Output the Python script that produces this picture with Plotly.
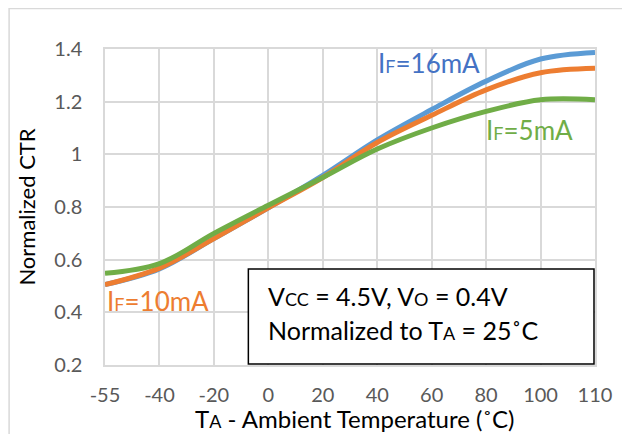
import plotly.graph_objects as go

temps = ["-55", "-40", "-20", "0", "20", "40", "60", "80", "100", "110"]
ctr_16mA = [0.505, 0.565, 0.680, 0.797, 0.920, 1.055, 1.170, 1.278, 1.362, 1.387]
ctr_10mA = [0.505, 0.568, 0.680, 0.797, 0.912, 1.045, 1.148, 1.245, 1.310, 1.327]
ctr_5mA = [0.548, 0.585, 0.700, 0.807, 0.912, 1.020, 1.100, 1.163, 1.207, 1.207]
y_ticks = [0.2, 0.4, 0.6, 0.8, 1.0, 1.2, 1.4]
y_ticktext = ["0.2", "0.4", "0.6", "0.8", "1", "1.2", "1.4"]

FONT = "Lato, 'Open Sans', sans-serif"
BLUE, ORANGE, GREEN = "#5B9BD5", "#ED7D31", "#70AD47"

fig = go.Figure()
for vals, col in [(ctr_16mA, BLUE), (ctr_10mA, ORANGE), (ctr_5mA, GREEN)]:
    fig.add_trace(go.Scatter(x=temps, y=vals, mode="lines",
                             line=dict(color=col, width=5, shape="spline", smoothing=1.0),
                             showlegend=False, hoverinfo="skip"))

# page body has an 8px default margin: work in window pixels, convert to figure
OFF = 8
L, R, T, B = 104.5, 595, 49, 365   # plot area in window pixels
W, H = R - L, B - T
def px(x):
    return (x - L) / W
def py(y):
    return (B - y) / H

def small(t, s):
    return f"<span style='font-size:{s}px'>{t}</span>"

fig.update_layout(
    width=630, height=434,
    margin=dict(l=L - OFF, r=630 - (R - OFF), t=T - OFF, b=434 - (B - OFF)),
    paper_bgcolor="white", plot_bgcolor="white",
    font=dict(family=FONT, color="#595959"),
    xaxis=dict(type="category", range=[0, len(temps) - 1], automargin=False,
               showgrid=True, gridcolor="#d9d9d9", gridwidth=1.5,
               showline=True, linecolor="#d9d9d9", linewidth=1.5, mirror=True,
               zeroline=False, ticks="outside", ticklen=0,
               ticklabelstandoff=11,
               tickfont=dict(size=20, color="#595959")),
    yaxis=dict(range=[0.2, 1.4], tickvals=y_ticks, ticktext=y_ticktext, automargin=False,
               showgrid=True, gridcolor="#d9d9d9", gridwidth=1.5,
               showline=True, linecolor="#d9d9d9", linewidth=1.5, mirror=True,
               zeroline=False, ticks="outside", ticklen=0,
               ticklabelstandoff=17,
               tickfont=dict(size=20, color="#595959"),
               title=dict(text="Normalized CTR", font=dict(size=22, color="#000000"),
                          standoff=13)),
)

# x-axis title placed as text under the tick labels
fig.add_annotation(xref="paper", yref="paper", x=px(354), y=py(418),
                   xanchor="center", yanchor="middle", showarrow=False,
                   text="T" + small("A", 18) + " - Ambient Temperature (˚C)",
                   font=dict(size=24, color="#000000", family=FONT))

# outer chart border (light gray, extends past the image)
fig.add_shape(type="rect", xref="paper", yref="paper",
              x0=px(8.5), x1=px(700), y0=py(500), y1=py(8.5),
              line=dict(color="#d9d9d9", width=1.5), fillcolor="rgba(0,0,0,0)", layer="below")

# condition box
fig.add_shape(type="rect", xref="paper", yref="paper",
              x0=px(248), x1=px(594), y0=py(364), y1=py(269),
              line=dict(color="#000000", width=1.5), fillcolor="white", layer="above")

fig.add_annotation(xref="paper", yref="paper", x=px(266), y=py(296),
                   xanchor="left", yanchor="middle", showarrow=False,
                   text="V" + small("CC", 18) + " = 4.5V, V" + small("O", 18) + " = 0.4V",
                   font=dict(size=25, color="#000000", family=FONT))
fig.add_annotation(xref="paper", yref="paper", x=px(266), y=py(330),
                   xanchor="left", yanchor="middle", showarrow=False,
                   text="Normalized to T" + small("A", 18) + " = 25˚C",
                   font=dict(size=25, color="#000000", family=FONT))

# series labels
for txt, x, y, col in [("=16mA", 376, 63, "#4472C4"),
                       ("=5mA", 484, 130, GREEN),
                       ("=10mA", 105, 301, ORANGE)]:
    fig.add_annotation(xref="paper", yref="paper", x=px(x), y=py(y),
                       xanchor="left", yanchor="middle", showarrow=False,
                       text="I" + small("F", 18) + txt,
                       font=dict(size=26, color=col, family=FONT))

fig.write_html("out.html")
